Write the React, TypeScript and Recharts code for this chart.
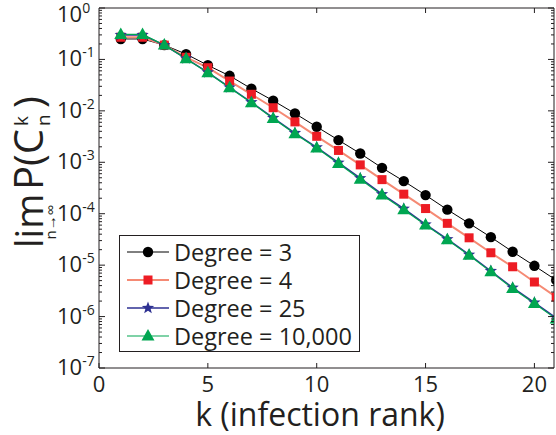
import React from 'react';
import { LineChart, Line, XAxis, YAxis, Legend } from 'recharts';

// infection rank k and lim P(C_n^k) for each tree degree
const ranks = [1, 2, 3, 4, 5, 6, 7, 8, 9, 10, 11, 12, 13, 14, 15, 16, 17, 18, 19, 20, 21];
const degree3 = [0.25, 0.25, 0.19, 0.127, 0.077, 0.048, 0.027, 0.0158, 0.0089, 0.0049, 0.0027, 0.00148, 0.00078, 0.00043, 0.00023, 0.00012, 6.5e-5, 3.5e-5, 1.82e-5, 9.7e-6, 5.1e-6];
const degree4 = [0.27, 0.27, 0.19, 0.11, 0.069, 0.038, 0.021, 0.0115, 0.0061, 0.0032, 0.0017, 0.00089, 0.00046, 0.00024, 0.000126, 6.5e-5, 3.4e-5, 1.74e-5, 9.3e-6, 4.7e-6, 2.4e-6];
const degree25 = [0.3, 0.3, 0.19, 0.104, 0.056, 0.0285, 0.0147, 0.0073, 0.0037, 0.00195, 0.00098, 0.00049, 0.00024, 0.000125, 6.2e-5, 3.2e-5, 1.6e-5, 7.7e-6, 3.65e-6, 1.87e-6, 9.4e-7];
const degree10000 = [0.307, 0.307, 0.19, 0.103, 0.055, 0.028, 0.0144, 0.0071, 0.0036, 0.0019, 0.00095, 0.00047, 0.00023, 0.00012, 6.0e-5, 3.1e-5, 1.56e-5, 7.4e-6, 3.5e-6, 1.8e-6, 9.0e-7];

const seriesNames = ['Degree = 3', 'Degree = 4', 'Degree = 25', 'Degree = 10,000'];
const xTicks = [0, 5, 10, 15, 20];
const yDecades = [1e-7, 1e-6, 1e-5, 1e-4, 1e-3, 1e-2, 1e-1, 1];
const yMinorSteps = [2, 3, 4, 5, 6, 7, 8, 9];

const data = ranks.map((k, i) => ({
  k,
  d3: degree3[i],
  d4: degree4[i],
  d25: degree25[i],
  d10000: degree10000[i],
}));

const yTicks = yDecades.flatMap((d) => (d < 1 ? [d, ...yMinorSteps.map((m) => d * m)] : [d]));

const FONT = '"Open Sans", sans-serif';
const INK = '#231f20';

const BLACK = '#000000';
const RED = '#ed1c24';
const SALMON = '#f58a74';
const BLUE = '#2e3192';
const GREEN = '#00a651';

function starPoints(cx: number, cy: number, r: number) {
  const pts: string[] = [];
  for (let i = 0; i < 10; i++) {
    const rr = i % 2 === 0 ? r : r * 0.42;
    const a = -Math.PI / 2 + (i * Math.PI) / 5;
    pts.push(`${cx + rr * Math.cos(a)},${cy + rr * Math.sin(a)}`);
  }
  return pts.join(' ');
}

function Marker({ kind, cx, cy }: { kind: string; cx: number; cy: number }) {
  if (kind === 'circle') return <circle cx={cx} cy={cy} r={5.2} fill={BLACK} />;
  if (kind === 'square') return <rect x={cx - 4.5} y={cy - 4.5} width={9} height={9} fill={RED} />;
  if (kind === 'star') return <polygon points={starPoints(cx, cy, 6.5)} fill={BLUE} />;
  return <polygon points={`${cx},${cy - 7} ${cx - 6.5},${cy + 4.5} ${cx + 6.5},${cy + 4.5}`} fill={GREEN} />;
}

const dotOf = (kind: string) => (props: any) => {
  const { cx, cy, index } = props;
  if (cx == null || cy == null) return <g key={index} />;
  return <Marker key={index} kind={kind} cx={cx} cy={cy} />;
};

const legendStyles = [
  { color: BLACK, width: 1, kind: 'circle' },
  { color: SALMON, width: 2, kind: 'square' },
  { color: BLUE, width: 1.5, kind: 'star' },
  { color: GREEN, width: 1.2, kind: 'triangle' },
];

function LegendBox() {
  return (
    <div
      style={{
        border: `1px solid ${INK}`,
        background: '#fff',
        boxSizing: 'border-box',
        width: 241,
        height: 117,
        paddingTop: 2,
        fontFamily: FONT,
        color: INK,
      }}
    >
      {seriesNames.map((name, i) => (
        <div key={name} style={{ display: 'flex', alignItems: 'center', height: 28 }}>
          <svg width={54} height={28} style={{ flex: 'none' }}>
            <line x1={7} x2={49} y1={14} y2={14} stroke={legendStyles[i].color} strokeWidth={legendStyles[i].width} />
            <Marker kind={legendStyles[i].kind} cx={28} cy={14} />
          </svg>
          <span style={{ fontSize: 23.5, lineHeight: '28px', whiteSpace: 'nowrap' }}>{name}</span>
        </div>
      ))}
    </div>
  );
}

function LeftTick(props: any) {
  const { x, y, payload } = props;
  const lg = Math.log10(payload.value);
  const e = Math.round(lg);
  const major = Math.abs(lg - e) < 1e-6;
  return (
    <g>
      <line x1={x} x2={x + (major ? 6 : 3)} y1={y} y2={y} stroke={INK} strokeWidth={1} />
      {major && (
        <text x={x - 42} y={e === 0 ? y + 14 : y + 7} fontSize={22} fontFamily={FONT} fill={INK}>
          10
          <tspan dy={-9} fontSize={14}>{e === 0 ? '0' : `-${-e}`}</tspan>
        </text>
      )}
    </g>
  );
}

function RightTick(props: any) {
  const { x, y, payload } = props;
  const lg = Math.log10(payload.value);
  const major = Math.abs(lg - Math.round(lg)) < 1e-6;
  return <line x1={x} x2={x - (major ? 6 : 3)} y1={y} y2={y} stroke={INK} strokeWidth={1} />;
}

function BottomTick(props: any) {
  const { x, y, payload } = props;
  return (
    <g>
      <line x1={x} x2={x} y1={y} y2={y - 5} stroke={INK} strokeWidth={1} />
      <text x={x} y={y + 24} textAnchor="middle" fontSize={22} fontFamily={FONT} fill={INK}>
        {payload.value}
      </text>
    </g>
  );
}

function TopTick(props: any) {
  const { x, y } = props;
  return <line x1={x} x2={x} y1={y} y2={y + 5} stroke={INK} strokeWidth={1} />;
}

function XLabel() {
  return (
    <text x={320} y={426} textAnchor="middle" fontSize={32} fontFamily={FONT} fill={INK}>
      k (infection rank)
    </text>
  );
}

function YLabel() {
  return (
    <g transform="translate(43,248) rotate(-90)" fontFamily={FONT} fill={INK}>
      <text x={0} y={0} fontSize={38}>lim</text>
      <text x={26} y={13} fontSize={15} textAnchor="middle">n→∞</text>
      <text x={58} y={0} fontSize={40}>P(C</text>
      <text x={122} y={-15} fontSize={19}>k</text>
      <text x={122} y={7} fontSize={19}>n</text>
      <text x={140} y={0} fontSize={40}>)</text>
    </g>
  );
}

export default function App() {
  return (
    <div style={{ position: 'absolute', left: 0, top: 0, width: 556, height: 435, overflow: 'hidden', background: '#fff' }}>
      <LineChart width={600} height={435} data={data} margin={{ top: 7, right: 45, bottom: 0, left: 0 }}>
        <XAxis
          dataKey="k"
          type="number"
          domain={[0, 20.9]}
          allowDataOverflow
          ticks={xTicks}
          height={67}
          tickSize={0}
          tickMargin={0}
          tick={<BottomTick />}
          tickLine={false}
          axisLine={{ stroke: INK, strokeWidth: 1 }}
          label={{ content: () => <XLabel /> }}
        />
        <XAxis
          xAxisId="top"
          orientation="top"
          dataKey="k"
          type="number"
          domain={[0, 20.9]}
          allowDataOverflow
          ticks={[5, 10, 15, 20]}
          height={1}
          tickSize={0}
          tickMargin={0}
          tick={<TopTick />}
          tickLine={false}
          axisLine={{ stroke: INK, strokeWidth: 1 }}
        />
        <YAxis
          scale="log"
          type="number"
          domain={[1e-7, 1]}
          allowDataOverflow
          ticks={yTicks}
          interval={0}
          width={99}
          tickSize={0}
          tickMargin={0}
          tick={<LeftTick />}
          tickLine={false}
          axisLine={{ stroke: INK, strokeWidth: 1 }}
          label={{ content: () => <YLabel /> }}
        />
        <YAxis
          yAxisId="right"
          orientation="right"
          scale="log"
          type="number"
          domain={[1e-7, 1]}
          allowDataOverflow
          ticks={yTicks}
          interval={0}
          width={1}
          tickSize={0}
          tickMargin={0}
          tick={<RightTick />}
          tickLine={false}
          axisLine={{ stroke: INK, strokeWidth: 1 }}
        />
        <Line dataKey="d3" name={seriesNames[0]} stroke={BLACK} strokeWidth={1} dot={dotOf('circle')} activeDot={false} isAnimationActive={false} />
        <Line dataKey="d4" name={seriesNames[1]} stroke={SALMON} strokeWidth={2} dot={dotOf('square')} activeDot={false} isAnimationActive={false} />
        <Line dataKey="d25" name={seriesNames[2]} stroke={BLUE} strokeWidth={1.5} dot={dotOf('star')} activeDot={false} isAnimationActive={false} />
        <Line dataKey="d10000" name={seriesNames[3]} stroke={GREEN} strokeWidth={1.2} dot={dotOf('triangle')} activeDot={false} isAnimationActive={false} />
        <Legend
          layout="vertical"
          align="center"
          verticalAlign="middle"
          content={() => <LegendBox />}
          wrapperStyle={{ left: 119, top: 235, width: 241, height: 117 }}
        />
      </LineChart>
    </div>
  );
}
